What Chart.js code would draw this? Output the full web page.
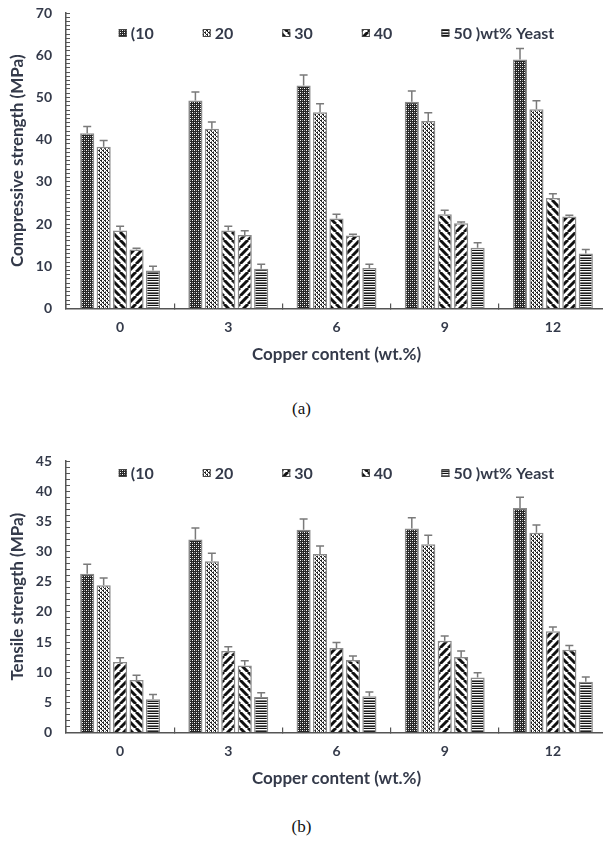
<!DOCTYPE html>
<html>
<head>
<meta charset="utf-8">
<script src="https://cdn.jsdelivr.net/npm/chart.js@4"></script>
<style>
  html, body { margin: 0; padding: 0; background: #fff; }
  body { width: 603px; height: 852px; overflow: hidden; position: relative; }
  .wrap { position: absolute; left: 0; }
  .cap {
    position: absolute; left: 0; width: 603px; text-align: center;
    font-family: "Liberation Serif", "Times New Roman", serif; font-size: 17px; color: #111;
  }
</style>
</head>
<body>
<div class="wrap" style="top:0"><canvas id="chart-a" width="612" height="372"></canvas></div>
<div class="cap" style="top:399px">(a)</div>
<div class="wrap" style="top:448px"><canvas id="chart-b" width="612" height="348"></canvas></div>
<div class="cap" style="top:817px">(b)</div>
<script>
const categories = ['0', '3', '6', '9', '12'];
const seriesLabels = ['(10', '20', '30', '40', '50 )wt% Yeast'];

// (a) compressive strength, MPa
const comp10 = [41.5, 49.3, 52.8, 49.0, 59.0];
const comp20 = [38.3, 42.6, 46.5, 44.4, 47.2];
const comp30 = [18.5, 18.5, 21.3, 22.3, 26.2];
const comp40 = [14.0, 17.4, 17.3, 20.2, 21.8];
const comp50 = [9.0, 9.4, 9.6, 14.4, 13.0];
const compErr10 = [1.6, 2.0, 2.5, 2.5, 2.6];
const compErr20 = [1.5, 1.6, 2.0, 2.0, 2.0];
const compErr30 = [1.0, 1.0, 1.0, 1.0, 1.0];
const compErr40 = [0.3, 1.0, 0.3, 0.3, 0.3];
const compErr50 = [1.0, 1.1, 0.9, 1.2, 1.0];

// (b) tensile strength, MPa
const tens10 = [26.3, 32.0, 33.6, 33.8, 37.2];
const tens20 = [24.4, 28.4, 29.6, 31.2, 33.1];
const tens30 = [11.7, 13.5, 14.0, 15.2, 16.8];
const tens40 = [8.7, 11.1, 12.0, 12.5, 13.7];
const tens50 = [5.5, 5.9, 6.0, 9.1, 8.4];
const tensErr10 = [1.6, 1.9, 1.8, 1.8, 1.8];
const tensErr20 = [1.2, 1.3, 1.3, 1.5, 1.3];
const tensErr30 = [0.7, 0.7, 0.9, 0.8, 0.7];
const tensErr40 = [0.8, 0.8, 0.7, 1.0, 0.7];
const tensErr50 = [0.8, 0.7, 0.7, 0.8, 0.8];

const TEXT = '#343a4a';
const FONT = 'Lato, "Liberation Sans", sans-serif';

function makePattern(w, h, draw) {
    const c = document.createElement('canvas');
    c.width = w; c.height = h;
    const g = c.getContext('2d');
    draw(g, w, h);
    return g.createPattern(c, 'repeat');
}

// dark with small light dots
const patDark = makePattern(4, 4, (g) => {
    g.fillStyle = '#262626'; g.fillRect(0, 0, 4, 4);
    g.fillStyle = '#fff'; g.fillRect(0, 0, 1, 1); g.fillRect(2, 2, 1, 1);
    g.fillStyle = '#999'; g.fillRect(2, 0, 1, 1); g.fillRect(0, 2, 1, 1);
});
// lighter dotted
const patLight = makePattern(4, 4, (g) => {
    g.fillStyle = '#fff'; g.fillRect(0, 0, 4, 4);
    g.fillStyle = '#222';
    g.fillRect(0, 0, 2, 1); g.fillRect(2, 2, 2, 1); g.fillRect(1, 1, 1, 1); g.fillRect(3, 3, 1, 1);
    g.fillStyle = '#888'; g.fillRect(3, 1, 1, 1); g.fillRect(1, 3, 1, 1);
});
function stripes(up) {
    return makePattern(8, 8, (g, w, h) => {
        g.fillStyle = '#fff'; g.fillRect(0, 0, w, h);
        g.strokeStyle = '#111'; g.lineWidth = 3;
        for (const o of [-w, 0, w]) {
            g.beginPath();
            if (up) { g.moveTo(o, h); g.lineTo(o + w, 0); }
            else { g.moveTo(o, 0); g.lineTo(o + w, h); }
            g.stroke();
        }
    });
}
const patHoriz = makePattern(4, 5, (g) => {
    const rows = ['#111', '#fff', '#777', '#222', '#ddd'];
    rows.forEach((c, i) => { g.fillStyle = c; g.fillRect(0, i, 4, 1); });
});

// error bars (upper only) drawn from the bar scale
const errorBars = {
    id: 'errorBars',
    afterDatasetsDraw(chart) {
        const ctx = chart.ctx;
        const y = chart.scales.y;
        ctx.save();
        ctx.strokeStyle = '#7a7a7a';
        ctx.lineWidth = 1.5;
        chart.data.datasets.forEach((ds, i) => {
            chart.getDatasetMeta(i).data.forEach((bar, j) => {
                const top = y.getPixelForValue(ds.data[j] + ds.errors[j]);
                ctx.beginPath();
                ctx.moveTo(bar.x, bar.y);
                ctx.lineTo(bar.x, top);
                ctx.moveTo(bar.x - 4, top);
                ctx.lineTo(bar.x + 4, top);
                ctx.stroke();
            });
        });
        ctx.restore();
    }
};

// legend sitting inside the plot area
const insideLegend = {
    id: 'insideLegend',
    afterDraw(chart, args, opts) {
        const ctx = chart.ctx;
        const area = chart.chartArea;
        ctx.save();
        ctx.font = 'bold 16px ' + FONT;
        const box = 8, gap = 4, pad = opts.padding || 50;
        const items = chart.data.datasets.map(ds => ({
            ds, w: box + gap + ctx.measureText(ds.label).width
        }));
        const total = items.reduce((s, it) => s + it.w, 0) + pad * (items.length - 1);
        let x = (area.left + area.right) / 2 - total / 2;
        const yc = area.top + opts.offset;
        ctx.textBaseline = 'middle';
        items.forEach(it => {
            ctx.fillStyle = it.ds.backgroundColor;
            ctx.fillRect(x, yc - box / 2, box, box);
            ctx.strokeStyle = '#444';
            ctx.lineWidth = 1;
            ctx.strokeRect(x + 0.5, yc - box / 2 + 0.5, box - 1, box - 1);
            ctx.fillStyle = TEXT;
            ctx.fillText(it.ds.label, x + box + gap, yc + 1);
            x += it.w + pad;
        });
        ctx.restore();
    }
};

function makeChart(id, values, errors, fills, yMax, major, yTitle, legendOffset) {
    const datasets = values.map((v, i) => ({
        label: seriesLabels[i],
        data: v,
        errors: errors[i],
        backgroundColor: fills[i],
        borderColor: '#8a8a8a',
        borderWidth: 1.5,
        categoryPercentage: 0.76,
        barPercentage: 0.86,
    }));
    return new Chart(document.getElementById(id), {
        type: 'bar',
        data: { labels: categories, datasets },
        plugins: [errorBars, insideLegend],
        options: {
            responsive: false,
            animation: false,
            devicePixelRatio: 1,
            layout: { padding: { left: 5, right: 5, top: 0, bottom: 7.5 } },
            scales: {
                x: {
                    grid: { offset: true, drawOnChartArea: false, tickLength: -5, color: '#555', lineWidth: 1.2 },
                    border: { color: '#555', width: 1.5 },
                    ticks: { color: TEXT, font: { family: FONT, size: 14, weight: 'bold' }, padding: 16 },
                    title: { display: true, text: 'Copper content (wt.%)', color: TEXT,
                             font: { family: FONT, size: 17, weight: 'bold' }, padding: 0 },
                    afterFit: (s) => { s.height = 56; },
                },
                y: {
                    min: 0, max: yMax,
                    grid: { drawOnChartArea: false, tickLength: -4, color: '#555', lineWidth: 1 },
                    border: { color: '#555', width: 1.5 },
                    ticks: {
                        stepSize: 1, autoSkip: false, padding: 18, color: TEXT,
                        font: { family: FONT, size: 14, weight: 'bold' },
                        callback: (v) => v % major === 0 ? v : '',
                    },
                    title: { display: true, text: yTitle, color: TEXT,
                             font: { family: FONT, size: 17, weight: 'bold' }, padding: { top: 2, bottom: 0 } },
                    afterFit: (s) => { s.width = 61; s.paddingTop = 13; s.paddingBottom = 8; },
                },
            },
            plugins: {
                legend: { display: false },
                tooltip: { enabled: false },
                insideLegend: { offset: legendOffset, padding: 49 },
            },
        },
    });
}

makeChart('chart-a',
    [comp10, comp20, comp30, comp40, comp50],
    [compErr10, compErr20, compErr30, compErr40, compErr50],
    [patDark, patLight, stripes(false), stripes(true), patHoriz],
    70, 10, 'Compressive strength (MPa)', 20);

makeChart('chart-b',
    [tens10, tens20, tens30, tens40, tens50],
    [tensErr10, tensErr20, tensErr30, tensErr40, tensErr50],
    [patDark, patLight, stripes(true), stripes(false), patHoriz],
    45, 5, 'Tensile strength (MPa)', 12);
</script>
</body>
</html>
